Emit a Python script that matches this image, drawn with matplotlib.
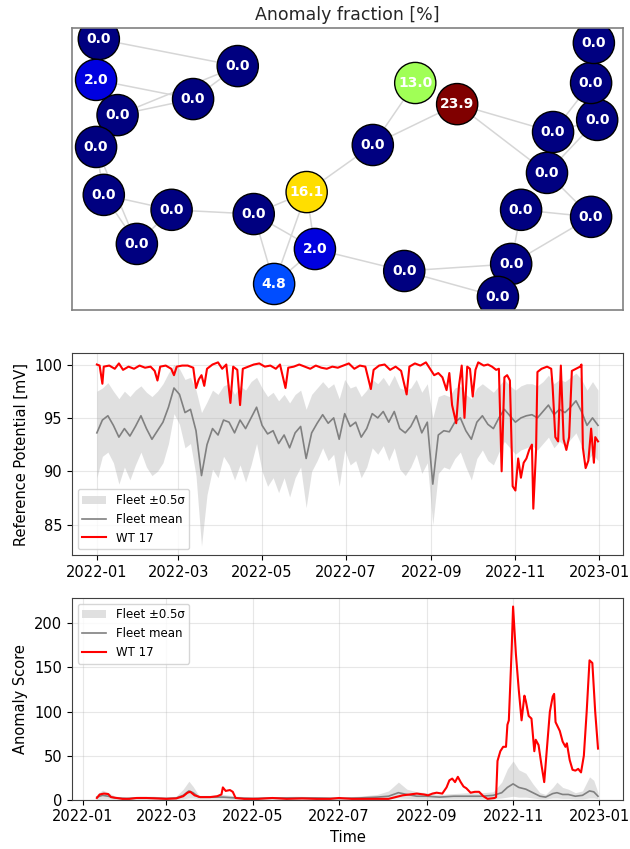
import numpy as np
import pandas as pd
import matplotlib
matplotlib.use("Agg")
import matplotlib.pyplot as plt
import matplotlib.dates as mdates

# ---- network: turbine layout (normalised) and anomaly fraction [%]
node_x = [0.049, 0.044, 0.301, 0.220, 0.083, 0.044, 0.058, 0.181, 0.118, 0.330,
          0.426, 0.441, 0.367, 0.546, 0.623, 0.699, 0.603, 0.797, 0.773, 0.815,
          0.942, 0.862, 0.873, 0.953, 0.942, 0.947]
node_y = [0.961, 0.816, 0.865, 0.748, 0.691, 0.578, 0.408, 0.355, 0.234, 0.340,
          0.418, 0.216, 0.092, 0.585, 0.805, 0.730, 0.138, 0.163, 0.046, 0.355,
          0.330, 0.486, 0.631, 0.674, 0.805, 0.947]
node_frac = [0.0, 2.0, 0.0, 0.0, 0.0, 0.0, 0.0, 0.0, 0.0, 0.0,
             16.1, 2.0, 4.8, 0.0, 13.0, 23.9, 0.0, 0.0, 0.0, 0.0,
             0.0, 0.0, 0.0, 0.0, 0.0, 0.0]
edges = [(0, 2), (1, 3), (4, 3), (4, 2), (3, 2), (5, 6), (6, 7), (6, 8), (5, 8),
         (7, 8), (7, 9), (9, 10), (9, 11), (9, 12), (10, 12), (10, 11), (11, 12),
         (10, 13), (13, 14), (13, 15), (15, 22), (15, 21), (11, 16), (16, 17),
         (16, 18), (17, 18), (17, 19), (17, 20), (19, 20), (21, 20), (21, 22),
         (22, 24), (21, 23), (22, 23), (24, 25)]

# ---- reference potential: fleet (4-day samples)
fleet_dates = pd.date_range("2022-01-01", "2022-12-31", freq="4D")
fleet_mean = [93.6, 94.8, 95.2, 94.3, 93.2, 94.0, 93.3, 94.2, 95.2, 94.0,
              93.0, 93.8, 94.6, 96.0, 97.8, 97.2, 95.5, 95.8, 93.8, 89.6,
              92.5, 94.0, 93.4, 94.8, 94.6, 93.6, 94.8, 94.0, 95.0, 96.0,
              94.3, 93.5, 93.8, 92.6, 93.4, 92.2, 93.6, 94.2, 91.2, 93.6,
              94.5, 95.3, 94.5, 95.0, 93.0, 95.4, 94.2, 94.6, 93.2, 94.0,
              95.4, 95.0, 95.6, 94.6, 95.6, 94.0, 93.6, 94.2, 95.2, 93.6,
              94.6, 88.8, 93.4, 93.8, 93.7, 94.6, 95.0, 93.8, 93.0, 94.6,
              95.2, 94.4, 94.0, 95.0, 95.8, 95.2, 94.6, 95.0, 95.2, 95.3,
              95.0, 95.6, 96.2, 95.3, 95.8, 95.5, 96.0, 96.6, 95.6, 94.3,
              95.0, 94.3]
fleet_hi = [97.5, 97.8, 98.3, 97.5, 96.8, 97.5, 97.0, 97.6, 98.0, 97.4,
            97.0, 97.5, 98.2, 99.2, 100.0, 99.6, 98.6, 98.8, 97.6, 95.5,
            96.5, 97.6, 97.2, 98.0, 98.2, 97.2, 98.0, 97.6, 98.4, 98.8,
            97.8, 97.0, 97.4, 96.6, 97.2, 96.4, 97.2, 97.6, 95.8, 97.2,
            97.8, 98.4, 97.8, 98.2, 96.8, 98.6, 97.8, 98.0, 97.0, 97.6,
            98.6, 98.2, 98.8, 98.0, 99.0, 97.8, 97.6, 97.8, 98.6, 97.4,
            98.2, 95.0, 97.0, 97.2, 97.0, 97.8, 98.0, 97.2, 96.8, 97.8,
            98.2, 97.8, 97.4, 98.0, 98.6, 98.0, 97.6, 98.0, 98.2, 98.2,
            98.0, 98.4, 99.0, 98.2, 98.6, 98.4, 98.8, 99.2, 98.6, 97.6,
            98.4, 97.6]
fleet_lo = [89.4, 91.4, 91.8, 90.8, 88.8, 90.4, 89.2, 90.6, 91.8, 90.4,
            89.6, 90.0, 90.8, 92.6, 95.4, 94.4, 92.2, 92.6, 89.6, 83.0,
            87.8, 90.2, 89.4, 91.4, 90.6, 89.2, 90.6, 89.0, 90.6, 92.6,
            90.0, 88.6, 89.4, 88.0, 89.4, 87.6, 89.4, 90.4, 86.6, 90.0,
            91.0, 92.2, 91.0, 91.6, 88.6, 92.0, 90.6, 91.0, 89.4, 90.4,
            92.2, 91.6, 92.4, 91.0, 92.2, 90.2, 89.6, 90.4, 91.6, 89.8,
            90.8, 85.0, 89.8, 90.4, 90.2, 91.2, 91.8, 90.4, 89.2, 91.2,
            92.0, 91.0, 90.6, 91.8, 92.8, 92.2, 91.6, 92.0, 92.2, 92.4,
            92.0, 92.6, 93.2, 92.2, 92.8, 92.4, 93.0, 93.6, 92.4, 91.0,
            91.6, 91.0]

# ---- reference potential: WT 17
wt_dates = ["2022-01-01", "2022-01-03", "2022-01-05", "2022-01-06", "2022-01-10",
            "2022-01-14", "2022-01-17", "2022-01-20", "2022-01-24", "2022-01-28",
            "2022-02-01", "2022-02-05", "2022-02-09", "2022-02-12", "2022-02-14",
            "2022-02-16", "2022-02-20", "2022-02-24", "2022-02-26", "2022-02-28",
            "2022-03-04", "2022-03-08", "2022-03-12", "2022-03-14", "2022-03-16",
            "2022-03-18", "2022-03-20", "2022-03-22", "2022-03-26", "2022-03-30",
            "2022-04-02", "2022-04-05", "2022-04-08", "2022-04-10", "2022-04-13",
            "2022-04-15", "2022-04-17", "2022-04-21", "2022-04-25", "2022-04-29",
            "2022-05-03", "2022-05-07", "2022-05-11", "2022-05-14", "2022-05-18",
            "2022-05-20", "2022-05-24", "2022-05-28", "2022-06-01", "2022-06-05",
            "2022-06-09", "2022-06-13", "2022-06-17", "2022-06-21", "2022-06-25",
            "2022-06-29", "2022-07-03", "2022-07-07", "2022-07-11", "2022-07-15",
            "2022-07-19", "2022-07-21", "2022-07-25", "2022-07-29", "2022-08-02",
            "2022-08-06", "2022-08-10", "2022-08-14", "2022-08-16", "2022-08-20",
            "2022-08-24", "2022-08-28", "2022-08-31", "2022-09-03", "2022-09-06",
            "2022-09-09", "2022-09-12", "2022-09-14", "2022-09-16", "2022-09-19",
            "2022-09-21", "2022-09-23", "2022-09-25", "2022-09-27", "2022-09-29",
            "2022-10-01", "2022-10-03", "2022-10-05", "2022-10-09", "2022-10-12",
            "2022-10-15", "2022-10-18", "2022-10-20", "2022-10-22", "2022-10-24",
            "2022-10-26", "2022-10-28", "2022-10-30", "2022-11-01", "2022-11-03",
            "2022-11-05", "2022-11-07", "2022-11-09", "2022-11-11", "2022-11-13",
            "2022-11-14", "2022-11-16", "2022-11-17", "2022-11-20", "2022-11-24",
            "2022-11-27", "2022-11-28", "2022-11-30", "2022-12-02", "2022-12-04",
            "2022-12-06", "2022-12-08", "2022-12-10", "2022-12-12", "2022-12-15",
            "2022-12-18", "2022-12-19", "2022-12-20", "2022-12-22", "2022-12-24",
            "2022-12-26", "2022-12-28", "2022-12-29", "2022-12-31"]
wt_pot = [100.0, 99.9, 98.2, 99.8, 99.9, 99.6, 100.1, 99.5, 99.8, 99.6,
          99.9, 99.7, 99.8, 99.4, 98.5, 99.8, 99.9, 99.6, 99.0, 99.8,
          99.9, 99.9, 99.7, 97.8, 98.6, 99.0, 98.0, 99.6, 100.0, 100.2,
          99.6, 100.0, 96.4, 99.8, 99.5, 96.2, 99.6, 99.8, 100.0, 100.1,
          99.8, 99.9, 99.6, 100.0, 97.8, 99.7, 99.8, 100.0, 99.8, 99.6,
          99.9, 99.7, 99.6, 99.8, 99.7, 99.9, 100.1, 99.6, 99.9, 99.8,
          97.7, 99.5, 99.9, 100.0, 99.5, 99.8, 99.4, 97.2, 99.8, 100.1,
          99.9, 100.2, 99.6, 99.0, 99.2, 98.8, 97.6, 99.2, 96.2, 94.5,
          98.0, 99.9, 95.0, 99.8, 99.6, 97.0, 99.5, 100.2, 99.9, 100.0,
          99.8, 99.5, 99.6, 90.0, 98.8, 99.0, 98.5, 88.6, 88.2, 91.2,
          89.4, 90.8, 91.2, 92.0, 92.5, 86.5, 92.0, 99.3, 99.6, 99.8,
          99.6, 98.0, 93.2, 92.8, 99.9, 93.0, 92.0, 93.2, 99.4, 99.6,
          99.8, 100.0, 92.2, 90.3, 91.0, 94.0, 90.8, 93.2, 92.8]

# ---- anomaly score: fleet
score_fleet_dates = ["2022-01-11", "2022-01-15", "2022-01-19", "2022-01-24", "2022-02-01",
                     "2022-02-10", "2022-02-20", "2022-03-01", "2022-03-08", "2022-03-13",
                     "2022-03-17", "2022-03-20", "2022-03-24", "2022-04-01", "2022-04-10",
                     "2022-04-20", "2022-05-01", "2022-05-15", "2022-06-01", "2022-06-15",
                     "2022-07-01", "2022-07-15", "2022-07-28", "2022-08-05", "2022-08-12",
                     "2022-08-18", "2022-08-25", "2022-09-01", "2022-09-10", "2022-09-20",
                     "2022-10-01", "2022-10-10", "2022-10-18", "2022-10-24", "2022-10-28",
                     "2022-11-01", "2022-11-05", "2022-11-10", "2022-11-15", "2022-11-20",
                     "2022-11-24", "2022-11-29", "2022-12-02", "2022-12-06", "2022-12-10",
                     "2022-12-15", "2022-12-20", "2022-12-25", "2022-12-28", "2022-12-31"]
score_fleet_mean = [3, 5, 4, 2, 1.5, 2, 2, 1.5, 2, 5,
                    10, 8, 3, 3, 3, 2, 1.5, 2, 2, 2,
                    1.5, 2, 3, 4, 8, 6, 4, 4, 3, 4,
                    4, 4, 5, 8, 14, 18, 14, 12, 8, 4,
                    3, 7, 8, 6, 6, 4, 5, 10, 9, 4]
score_fleet_lo = [0, 1, 1, 0.5, 0.5, 0.5, 0.5, 0.5, 0.5, 1,
                  2, 2, 1, 1, 1, 0.5, 0.5, 0.5, 0.5, 0.5,
                  0.5, 0.5, 1, 1, 2, 1.5, 1, 1, 1, 1,
                  1, 1, 1, 2, 3, 4, 3, 3, 2, 1,
                  1, 2, 2, 1.5, 1.5, 1, 1, 2, 2, 1]
score_fleet_hi = [6, 11, 8, 4, 3, 4, 4, 3, 4, 12,
                  21, 15, 5, 5, 6, 4, 3, 3.5, 4, 3.5,
                  3, 4, 6, 10, 20, 12, 9, 8, 6, 7,
                  8, 8, 9, 20, 35, 44, 34, 30, 18, 8,
                  6, 14, 20, 14, 12, 8, 10, 26, 22, 8]

# ---- anomaly score: WT 17
score_wt_dates = ["2022-01-11", "2022-01-13", "2022-01-16", "2022-01-19", "2022-01-21",
                  "2022-01-25", "2022-01-29", "2022-02-03", "2022-02-08", "2022-02-15",
                  "2022-02-22", "2022-03-01", "2022-03-08", "2022-03-13", "2022-03-16",
                  "2022-03-18", "2022-03-21", "2022-03-25", "2022-04-01", "2022-04-06",
                  "2022-04-09", "2022-04-10", "2022-04-12", "2022-04-15", "2022-04-17",
                  "2022-04-19", "2022-04-25", "2022-05-05", "2022-05-15", "2022-05-25",
                  "2022-06-05", "2022-06-15", "2022-06-25", "2022-07-01", "2022-07-05",
                  "2022-07-10", "2022-07-20", "2022-07-28", "2022-08-05", "2022-08-10",
                  "2022-08-15", "2022-08-20", "2022-08-25", "2022-08-30", "2022-09-02",
                  "2022-09-05", "2022-09-08", "2022-09-12", "2022-09-15", "2022-09-17",
                  "2022-09-19", "2022-09-21", "2022-09-23", "2022-09-25", "2022-09-27",
                  "2022-09-29", "2022-10-02", "2022-10-05", "2022-10-08", "2022-10-11",
                  "2022-10-14", "2022-10-19", "2022-10-20", "2022-10-21", "2022-10-23",
                  "2022-10-25", "2022-10-27", "2022-10-28", "2022-10-29", "2022-10-31",
                  "2022-11-01", "2022-11-03", "2022-11-05", "2022-11-07", "2022-11-09",
                  "2022-11-10", "2022-11-12", "2022-11-14", "2022-11-16", "2022-11-17",
                  "2022-11-19", "2022-11-21", "2022-11-23", "2022-11-25", "2022-11-27",
                  "2022-11-29", "2022-11-30", "2022-12-01", "2022-12-04", "2022-12-06",
                  "2022-12-08", "2022-12-09", "2022-12-11", "2022-12-13", "2022-12-15",
                  "2022-12-17", "2022-12-19", "2022-12-21", "2022-12-23", "2022-12-25",
                  "2022-12-27", "2022-12-29", "2022-12-31"]
score_wt = [2, 6, 7, 6.5, 3, 2, 1, 1, 2, 2,
            1.5, 1, 1.5, 4, 8, 9, 5, 3, 3, 4,
            6, 14, 10, 11, 9, 2, 1, 1, 2, 1,
            1.5, 1, 1, 2, 1.5, 1, 1, 1, 1, 3,
            5, 6, 7, 6, 5, 7, 8, 7, 14, 22,
            24, 20, 26, 20, 15, 13, 8, 9, 9, 4,
            1, 2, 3, 44, 55, 60, 60, 85, 90, 170,
            219, 165, 125, 90, 118, 112, 95, 92, 55, 68,
            62, 40, 20, 60, 100, 117, 120, 88, 78, 66,
            60, 64, 45, 34, 33, 35, 31, 50, 100, 158,
            155, 100, 58]

plt.rcParams["font.family"] = ["DejaVu Sans"]

fig = plt.figure(figsize=(6.3, 8.49), dpi=100)
ax_net = fig.add_axes([0.114, 0.635, 0.875, 0.332])
ax_pot = fig.add_axes([0.114, 0.346, 0.875, 0.238])
ax_sc = fig.add_axes([0.114, 0.058, 0.875, 0.238])

# network panel
cmap = plt.get_cmap("jet")
vmax = max(node_frac)
for a, b in edges:
    ax_net.plot([node_x[a], node_x[b]], [node_y[a], node_y[b]],
                color="#d6d6d6", lw=1.1, zorder=1)
ax_net.scatter(node_x, node_y, s=880, c=node_frac, cmap=cmap, vmin=0, vmax=vmax,
               edgecolors="black", linewidths=1.0, zorder=2)
for x, y, v in zip(node_x, node_y, node_frac):
    ax_net.text(x, y, f"{v:.1f}", color="white", fontsize=10, fontweight="bold",
                ha="center", va="center", zorder=3)
ax_net.set_xlim(0, 1)
ax_net.set_ylim(0, 1)
ax_net.set_xticks([])
ax_net.set_yticks([])
for sp in ax_net.spines.values():
    sp.set_color("0.5")
    sp.set_linewidth(1.2)
ax_net.set_title("Anomaly fraction [%]", fontsize=12.5, color="0.15", pad=6)

# reference potential panel
fd = pd.to_datetime(fleet_dates)
ax_pot.fill_between(fd, fleet_lo, fleet_hi, color="#d9d9d9", alpha=0.8,
                    lw=0, label="Fleet ±0.5σ")
ax_pot.plot(fd, fleet_mean, color="gray", lw=1.2, label="Fleet mean")
ax_pot.plot(pd.to_datetime(wt_dates), wt_pot, color="red", lw=1.5, label="WT 17")
ax_pot.set_ylabel("Reference Potential [mV]", fontsize=10.5)
ax_pot.grid(True, alpha=0.3)
ax_pot.legend(loc="lower left", fontsize=8.5)

# anomaly score panel
sd = pd.to_datetime(score_fleet_dates)
ax_sc.fill_between(sd, score_fleet_lo, score_fleet_hi, color="#d9d9d9", alpha=0.8,
                   lw=0, label="Fleet ±0.5σ")
ax_sc.plot(sd, score_fleet_mean, color="gray", lw=1.2, label="Fleet mean")
ax_sc.plot(pd.to_datetime(score_wt_dates), score_wt, color="red", lw=1.5, label="WT 17")
ax_sc.set_ylabel("Anomaly Score", fontsize=10.5)
ax_sc.set_xlabel("Time", fontsize=10.5)
ax_sc.set_ylim(0, 229)
ax_sc.grid(True, alpha=0.3)
ax_sc.legend(loc="upper left", fontsize=8.5)

for ax in (ax_pot, ax_sc):
    ax.xaxis.set_major_locator(mdates.MonthLocator(bymonth=[1, 3, 5, 7, 9, 11]))
    ax.xaxis.set_major_formatter(mdates.DateFormatter("%Y-%m"))
    ax.tick_params(labelsize=10.5)
    for sp in ax.spines.values():
        sp.set_color("0.25")

fig.savefig("out.png", dpi=100)
